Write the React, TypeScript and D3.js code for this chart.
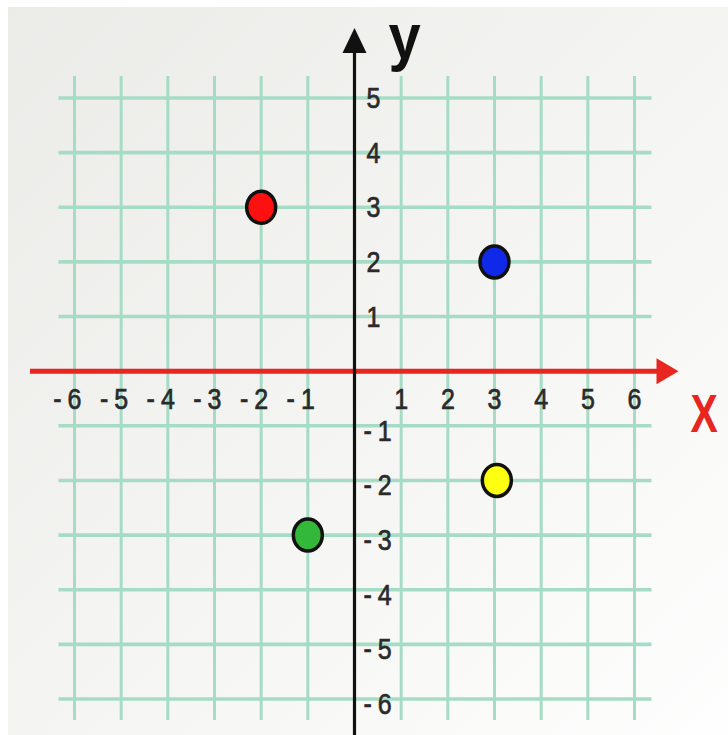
import React from "react";
import * as d3 from "d3";

const xTicks = [-6, -5, -4, -3, -2, -1, 1, 2, 3, 4, 5, 6];
const yTicks = [5, 4, 3, 2, 1, -1, -2, -3, -4, -5, -6];
const xGrid = [-6, -5, -4, -3, -2, -1, 0, 1, 2, 3, 4, 5, 6];
const yGrid = [5, 4, 3, 2, 1, 0, -1, -2, -3, -4, -5, -6];
const pointX = [-2, 3, 3.05, -1];
const pointY = [3, 2, -2, -3];
const pointColors = ["#ff1010", "#1028e8", "#ffff10", "#33b83a"];

const W = 728;
const H = 735;

export default function App() {
  const x = d3.scaleLinear().domain([-6, 6]).range([74.5, 634.5]);
  const y = d3.scaleLinear().domain([-6, 5]).range([699, 98]);
  const x0 = x(0);
  const y0 = y(0);
  const gridColor = "#a6dcc5";
  const font = "'Liberation Sans', Arial, sans-serif";
  const sy = 1.17;
  const labelStyle = {
    fontFamily: font,
    fontSize: 25,
    fill: "#2a2a2a",
    stroke: "#2a2a2a",
    strokeWidth: 0.6,
  };

  return (
    <svg
      width={W}
      height={H}
      style={{ position: "absolute", left: 0, top: 0, display: "block" }}
    >
      <defs>
        <linearGradient id="bg" x1="0" y1="0" x2="1" y2="1">
          <stop offset="0" stopColor="#ebebe8" />
          <stop offset="0.6" stopColor="#f6f6f4" />
          <stop offset="1" stopColor="#fefefe" />
        </linearGradient>
      </defs>
      <rect x={0} y={0} width={W} height={H} fill="#ffffff" />
      <rect x={8} y={7} width={W - 8} height={H - 7} fill="url(#bg)" />

      {/* grid */}
      {xGrid.map((v) => (
        <line
          key={"vx" + v}
          x1={x(v)}
          x2={x(v)}
          y1={y(5) - 22}
          y2={y(-6) + 21}
          stroke={gridColor}
          strokeWidth={3}
        />
      ))}
      {yGrid.map((v) => (
        <line
          key={"hy" + v}
          x1={x(-6) - 16}
          x2={x(6) + 17}
          y1={y(v)}
          y2={y(v)}
          stroke={gridColor}
          strokeWidth={3.6}
        />
      ))}

      {/* x axis */}
      <line x1={30} x2={x(6) + 24} y1={y0} y2={y0} stroke="#e8261f" strokeWidth={5} />
      <polygon
        points={`${x(6) + 44},${y0} ${x(6) + 22},${y0 - 13} ${x(6) + 22},${y0 + 13}`}
        fill="#e8261f"
      />

      {/* y axis */}
      <line x1={x0} x2={x0} y1={H} y2={y(5) - 48} stroke="#111" strokeWidth={3.2} />
      <polygon
        points={`${x0},${y(5) - 70} ${x0 - 12},${y(5) - 45} ${x0 + 12},${y(5) - 45}`}
        fill="#111"
      />

      {/* x tick labels */}
      {xTicks.map((v) => (
        <g key={"xl" + v} transform={`translate(${x(v)},${y0 + 38}) scale(1,${sy})`}>
          {v < 0 ? (
            <text {...labelStyle} textAnchor="end" x={7}>
              <tspan>-</tspan>
              <tspan dx={6}>{Math.abs(v)}</tspan>
            </text>
          ) : (
            <text {...labelStyle} textAnchor="middle">
              {v}
            </text>
          )}
        </g>
      ))}

      {/* y tick labels */}
      {yTicks.map((v) => (
        <g
          key={"yl" + v}
          transform={`translate(${v < 0 ? x0 + 9 : x0 + 12},${y(v) + (v < 0 ? 15 : 10)}) scale(1,${sy})`}
        >
          <text {...labelStyle} textAnchor="start">
            {v < 0 ? (
              <>
                <tspan>-</tspan>
                <tspan dx={6}>{Math.abs(v)}</tspan>
              </>
            ) : (
              v
            )}
          </text>
        </g>
      ))}

      {/* axis titles */}
      <g transform={`translate(${x0 + 34},${y(5) - 39}) scale(1,1.12)`}>
        <text fontFamily={font} fontWeight="bold" fontSize={58} fill="#111">
          y
        </text>
      </g>
      <g transform={`translate(${x(6) + 56},${y0 + 61}) scale(1,1.32)`}>
        <text fontFamily={font} fontWeight="bold" fontSize={41} fill="#e8261f">
          X
        </text>
      </g>

      {/* points */}
      {pointX.map((px, i) => (
        <ellipse
          key={"p" + i}
          cx={x(px)}
          cy={y(pointY[i])}
          rx={14.5}
          ry={16}
          fill={pointColors[i]}
          stroke="#111"
          strokeWidth={3.5}
        />
      ))}
    </svg>
  );
}
